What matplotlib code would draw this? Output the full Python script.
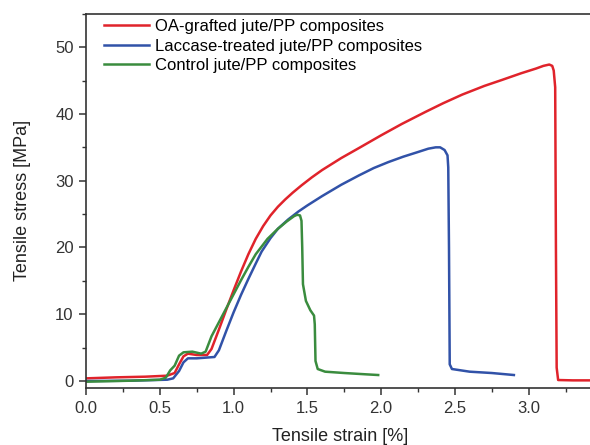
import numpy as np
import matplotlib.pyplot as plt
from matplotlib.ticker import MultipleLocator

plt.rcParams['font.family'] = ['Liberation Sans', 'DejaVu Sans']

# OA-grafted jute/PP composites
oa_x = [0.00, 0.20, 0.40, 0.55, 0.60, 0.63, 0.66, 0.69, 0.75, 0.82, 0.85, 0.90, 0.95,
        1.00, 1.05, 1.10, 1.15, 1.20, 1.25, 1.30, 1.35, 1.40, 1.46, 1.53, 1.60, 1.73,
        1.85, 2.00, 2.14, 2.30, 2.42, 2.55, 2.70, 2.82, 2.95, 3.05, 3.10, 3.14, 3.16,
        3.17, 3.18, 3.185, 3.19, 3.20, 3.30, 3.45]
oa_y = [0.40, 0.55, 0.65, 0.80, 1.2, 2.5, 3.7, 4.1, 3.9, 3.9, 4.8, 7.7, 10.7,
        13.6, 16.4, 19.0, 21.3, 23.2, 24.8, 26.1, 27.2, 28.2, 29.3, 30.5, 31.6, 33.4,
        34.9, 36.8, 38.5, 40.3, 41.6, 42.9, 44.2, 45.1, 46.1, 46.8, 47.2, 47.4, 47.2,
        46.5, 44.0, 20.0, 2.0, 0.15, 0.1, 0.1]

# Laccase-treated jute/PP composites
lac_x = [0.00, 0.30, 0.55, 0.59, 0.63, 0.66, 0.69, 0.75, 0.87, 0.90, 0.95, 1.00, 1.05,
         1.10, 1.15, 1.19, 1.25, 1.30, 1.37, 1.44, 1.50, 1.60, 1.73, 1.85, 1.95, 2.05,
         2.15, 2.25, 2.32, 2.37, 2.40, 2.43, 2.45, 2.455, 2.46, 2.465, 2.48, 2.60,
         2.75, 2.90]
lac_y = [0.0, 0.05, 0.2, 0.4, 1.5, 2.8, 3.4, 3.4, 3.6, 4.6, 7.5, 10.3, 12.9,
         15.3, 17.6, 19.4, 21.4, 22.8, 24.2, 25.4, 26.3, 27.7, 29.4, 30.8, 31.9, 32.8,
         33.6, 34.3, 34.8, 35.0, 35.0, 34.6, 33.8, 32.0, 20.0, 2.5, 1.8, 1.4,
         1.2, 0.9]

# Control jute/PP composites
ctl_x = [0.00, 0.30, 0.50, 0.54, 0.57, 0.60, 0.63, 0.66, 0.72, 0.78, 0.81, 0.85, 0.90,
         0.95, 1.00, 1.05, 1.10, 1.15, 1.23, 1.30, 1.36, 1.41, 1.43, 1.45, 1.46,
         1.465, 1.47, 1.49, 1.52, 1.545, 1.55, 1.555, 1.57, 1.62, 1.75, 1.90, 1.98]
ctl_y = [-0.1, 0.05, 0.2, 0.5, 1.6, 2.3, 3.8, 4.3, 4.4, 4.1, 4.4, 6.7, 8.8,
         10.9, 13.0, 15.1, 17.1, 19.0, 21.3, 22.8, 23.9, 24.7, 24.9, 24.8, 24.0,
         20.0, 14.5, 12.0, 10.6, 9.8, 8.5, 3.0, 1.8, 1.4, 1.2, 1.0, 0.9]

fig = plt.figure(figsize=(5.9, 4.45), dpi=100)
ax = fig.add_axes([0.146, 0.128, 0.86, 0.841])

ax.plot(oa_x, oa_y, color='#e0232b', lw=1.8, label='OA-grafted jute/PP composites')
ax.plot(lac_x, lac_y, color='#3152a8', lw=1.8, label='Laccase-treated jute/PP composites')
ax.plot(ctl_x, ctl_y, color='#3a8c3e', lw=1.8, label='Control jute/PP composites')

ax.set_xlim(0, 3.44)
ax.set_ylim(-1.05, 55)
ax.xaxis.set_major_locator(MultipleLocator(0.5))
ax.xaxis.set_minor_locator(MultipleLocator(0.25))
ax.yaxis.set_major_locator(MultipleLocator(10))
ax.yaxis.set_minor_locator(MultipleLocator(5))
ax.xaxis.set_major_formatter(plt.FuncFormatter(lambda v, p: '%.1f' % v))

for s in ['left', 'bottom', 'top']:
    ax.spines[s].set_color('#333333')
    ax.spines[s].set_linewidth(1.2)
ax.spines['right'].set_visible(False)

ax.tick_params(which='major', direction='out', length=5, width=1.1, color='#333333',
               labelsize=12, labelcolor='#333333', pad=4)
ax.tick_params(which='minor', direction='out', length=3, width=1.0, color='#333333')

ax.set_xlabel('Tensile strain [%]', fontsize=13, color='#222222', labelpad=9)
ax.set_ylabel('Tensile stress [MPa]', fontsize=13, color='#222222', labelpad=17)

ax.legend(loc='upper left', frameon=False, fontsize=12, handlelength=2.7,
          handletextpad=0.4, labelspacing=0.26, borderaxespad=0.2,
          bbox_to_anchor=(0.015, 1.012))

fig.savefig('out.png', dpi=100)
